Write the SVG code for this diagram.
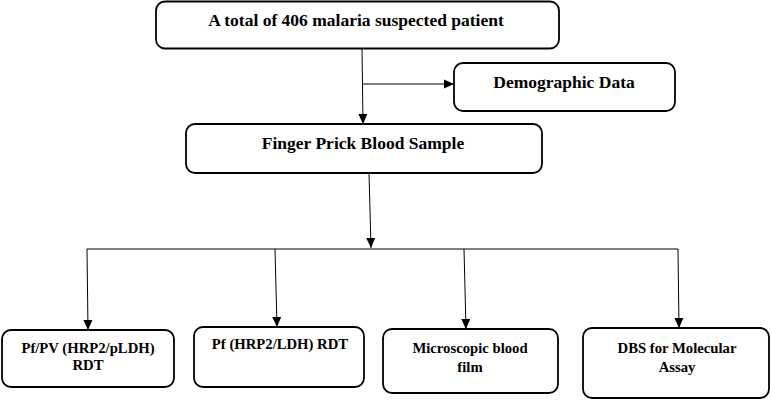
<svg xmlns="http://www.w3.org/2000/svg" width="771" height="400" viewBox="0 0 771 400">
<defs>
<marker id="ah" markerWidth="10" markerHeight="11" refX="10" refY="5" orient="auto" markerUnits="userSpaceOnUse">
<path d="M0,0.5 L10,5 L0,9.5 Z" fill="#000"/>
</marker>
<style>
.box{fill:#fff;stroke:#000;stroke-width:1.8}
.t{font-family:"Liberation Serif","Times New Roman",serif;font-weight:bold;fill:#000;text-anchor:middle}
.big{font-size:17.5px}
.sm{font-size:14.7px}
.c{fill:none;stroke:#000;stroke-width:1}
</style>
</defs>
<rect width="771" height="400" fill="#fff"/>
<g id="connectors">
<line class="c" x1="362" y1="49" x2="363" y2="124" marker-end="url(#ah)"/>
<line class="c" x1="362" y1="84" x2="454" y2="84" marker-end="url(#ah)"/>
<line class="c" x1="369" y1="173" x2="371" y2="248" marker-end="url(#ah)"/>
<polyline class="c" points="87,249 678,249"/>
<line class="c" x1="87" y1="249" x2="88" y2="330" marker-end="url(#ah)"/>
<line class="c" x1="275" y1="249" x2="277" y2="327" marker-end="url(#ah)"/>
<line class="c" x1="464" y1="249" x2="466" y2="329" marker-end="url(#ah)"/>
<line class="c" x1="678" y1="249" x2="679" y2="328" marker-end="url(#ah)"/>
</g>
<g id="n-total">
<rect class="box" x="156" y="1.5" width="403" height="47" rx="9"/>
<text class="t big" x="356" y="26">A total of 406 malaria suspected patient</text>
</g>
<g id="n-demo">
<rect class="box" x="454" y="63" width="221" height="48" rx="9"/>
<text class="t big" x="564" y="88">Demographic Data</text>
</g>
<g id="n-finger">
<rect class="box" x="186" y="124" width="356" height="49" rx="9"/>
<text class="t big" x="363" y="149">Finger Prick Blood Sample</text>
</g>
<g id="n-pfpv">
<rect class="box" x="2" y="330" width="172" height="57" rx="9"/>
<text class="t sm" x="88" y="353">Pf/PV (HRP2/pLDH)</text>
<text class="t sm" x="88" y="370">RDT</text>
</g>
<g id="n-pf">
<rect class="box" x="194" y="327" width="170" height="60" rx="9"/>
<text class="t sm" x="280" y="349">Pf (HRP2/LDH) RDT</text>
</g>
<g id="n-micro">
<rect class="box" x="383" y="329" width="175" height="64" rx="9"/>
<text class="t sm" x="470" y="353">Microscopic blood</text>
<text class="t sm" x="470" y="372">film</text>
</g>
<g id="n-dbs">
<rect class="box" x="583" y="328" width="186" height="70" rx="9"/>
<text class="t sm" x="677" y="353">DBS for Molecular</text>
<text class="t sm" x="677" y="372">Assay</text>
</g>
</svg>
